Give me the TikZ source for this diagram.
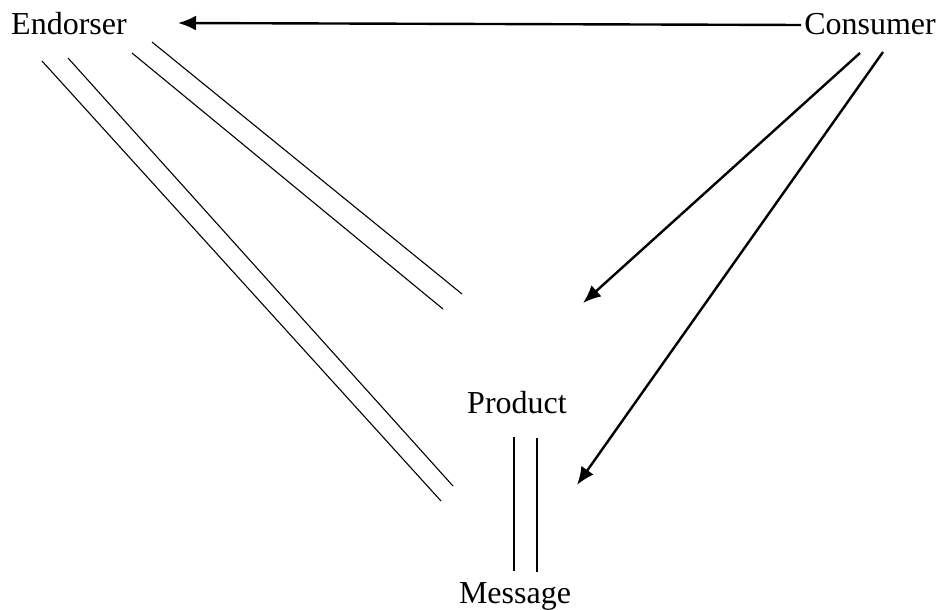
\documentclass[tikz,border=0pt]{standalone}
\usepackage{fontspec}
\setmainfont{Liberation Serif}
\usetikzlibrary{arrows.meta}
\begin{document}
\begin{tikzpicture}[x=1pt,y=-1pt,
  lbl/.style={inner sep=0pt,anchor=base,font=\fontsize{32}{38}\selectfont},
  thin/.style={line width=1.1pt},
  arr/.style={line width=2.4pt,-{Latex[length=18pt,width=15pt]}}]
\useasboundingbox (0,0) rectangle (943,610);
\node[lbl,anchor=base west] (endorser) at (11,35) {Endorser};
\node[lbl,anchor=base east] (consumer) at (936,35) {Consumer};
\node[lbl] (product) at (517,413) {Product};
\node[lbl] (message) at (515,603) {Message};
% arrow endpoints
\coordinate (c0) at (801,25);
\coordinate (e0) at (178,23);
\coordinate (c1) at (860,53);
\coordinate (p1) at (583,303);
\coordinate (c2) at (883,52);
\coordinate (m2) at (577,485);
% double lines
\coordinate (a1) at (152,42); \coordinate (a2) at (462,294);
\coordinate (b1) at (132,53); \coordinate (b2) at (443,309);
\coordinate (d1) at (68,58);  \coordinate (d2) at (453,486);
\coordinate (f1) at (42,61);  \coordinate (f2) at (441,501);
\coordinate (v1) at (514,437); \coordinate (v2) at (514,571);
\coordinate (w1) at (537,438); \coordinate (w2) at (537,572);
\draw[arr] (c0) -- (e0);
\draw[arr] (c1) -- (p1);
\draw[arr] (c2) -- (m2);
\draw[thin] (a1) -- (a2);
\draw[thin] (b1) -- (b2);
\draw[thin] (d1) -- (d2);
\draw[thin] (f1) -- (f2);
\draw[thin] (v1) -- (v2);
\draw[thin] (w1) -- (w2);
\end{tikzpicture}
\end{document}
